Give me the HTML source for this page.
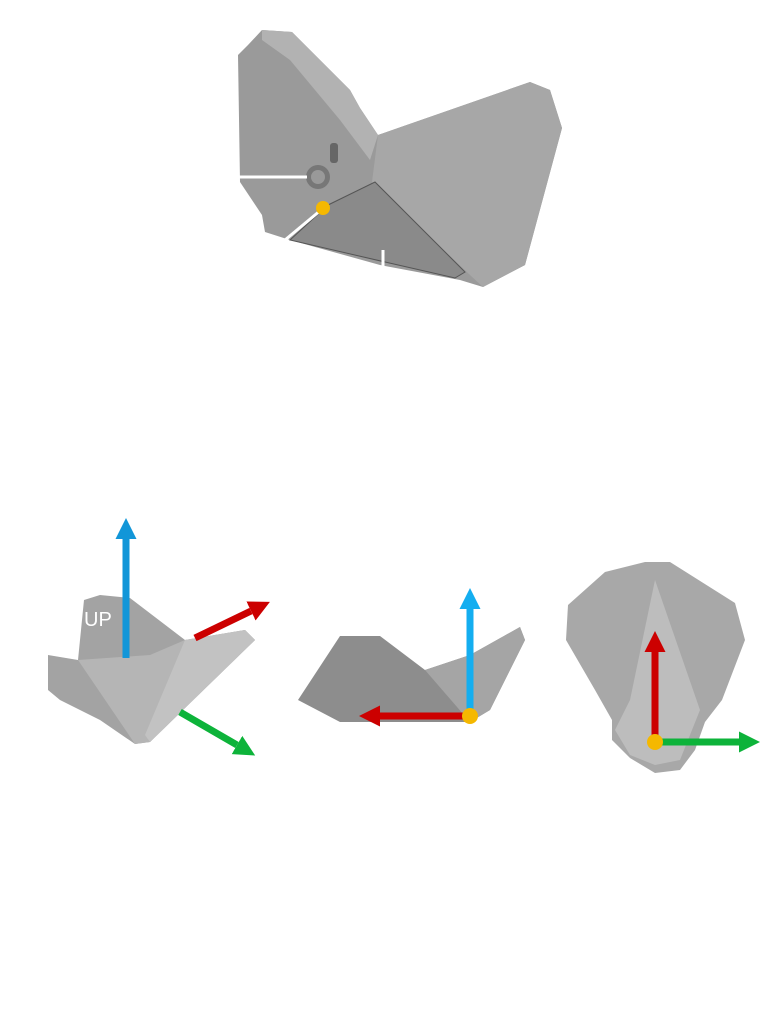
<!DOCTYPE html>
<html><head><style>body{margin:0;background:#fff}svg{display:block}</style></head><body>
<svg width="762" height="1024" viewBox="0 0 762 1024" xmlns="http://www.w3.org/2000/svg">
<defs>
<marker id="h" viewBox="0 0 10 10" refX="0" refY="5" markerWidth="3" markerHeight="3.4" orient="auto"><path d="M0,0L10,5L0,10z" fill="context-stroke"/></marker>
</defs>
<!-- top device -->
<polygon points="248,45 262,30 292,32 350,90 360,108 378,135 530,82 550,90 562,128 525,265 483,287 460,280 380,265 290,240 265,232 262,215 240,182 238,55" fill="#9a9a9a"/>
<polygon points="262,30 292,32 350,90 360,108 378,135 370,160 340,120 290,60 262,40" fill="#b2b2b2"/>
<polygon points="378,135 530,82 550,90 562,128 525,265 483,287 470,275 372,182" fill="#a7a7a7"/>
<polygon points="328,205 375,182 465,272 455,278 385,262 290,240" fill="#8a8a8a" stroke="#555" stroke-width="1"/>
<circle cx="318" cy="177" r="12" fill="#777"/><circle cx="318" cy="177" r="7" fill="#999"/>
<rect x="330" y="143" width="8" height="20" rx="3" fill="#666"/>
<line x1="237" y1="177" x2="307" y2="177" stroke="#fff" stroke-width="3"/>
<line x1="321" y1="210" x2="285" y2="240" stroke="#fff" stroke-width="3"/>
<line x1="383" y1="250" x2="383" y2="267" stroke="#fff" stroke-width="3"/>
<circle cx="323" cy="208" r="7" fill="#f5b800"/>
<!-- left object -->
<polygon points="48,655 78,660 84,600 100,595 130,598 185,640 245,630 255,640 150,742 135,744 100,720 60,700 48,690" fill="#a3a3a3"/>
<polygon points="78,660 150,655 185,640 245,630 255,640 150,742 135,744" fill="#b5b5b5"/>
<polygon points="185,640 245,630 255,640 150,742 145,735" fill="#c2c2c2"/>
<text x="84" y="626" font-family="Liberation Sans,sans-serif" font-size="20" fill="#fff">UP</text>
<line x1="126" y1="658" x2="126" y2="539" stroke="#1296d8" stroke-width="7" marker-end="url(#h)"/>
<line x1="195" y1="638" x2="251" y2="611" stroke="#cc0000" stroke-width="7" marker-end="url(#h)"/>
<line x1="180" y1="712" x2="237" y2="745" stroke="#0db33a" stroke-width="7" marker-end="url(#h)"/>
<!-- middle -->
<polygon points="298,700 340,636 380,636 425,670 470,655 520,627 525,640 490,710 470,722 340,722" fill="#8d8d8d"/>
<polygon points="425,670 470,655 520,627 525,640 490,710 470,722" fill="#a5a5a5"/>
<line x1="470" y1="716" x2="470" y2="609" stroke="#14aef0" stroke-width="7" marker-end="url(#h)"/>
<line x1="470" y1="716" x2="380" y2="716" stroke="#cc0000" stroke-width="7" marker-end="url(#h)"/>
<circle cx="470" cy="716" r="8" fill="#f5b800"/>
<!-- right -->
<polygon points="568,605 605,572 645,562 670,562 735,603 745,640 722,700 705,722 695,750 680,770 655,773 630,758 612,740 612,720 595,690 566,640" fill="#a8a8a8"/>
<polygon points="655,580 700,710 680,760 655,765 630,755 615,730 630,700" fill="#bdbdbd"/>
<line x1="655" y1="742" x2="655" y2="652" stroke="#cc0000" stroke-width="7" marker-end="url(#h)"/>
<line x1="655" y1="742" x2="739" y2="742" stroke="#0db33a" stroke-width="7" marker-end="url(#h)"/>
<circle cx="655" cy="742" r="8" fill="#f5b800"/>
</svg>
</body></html>
